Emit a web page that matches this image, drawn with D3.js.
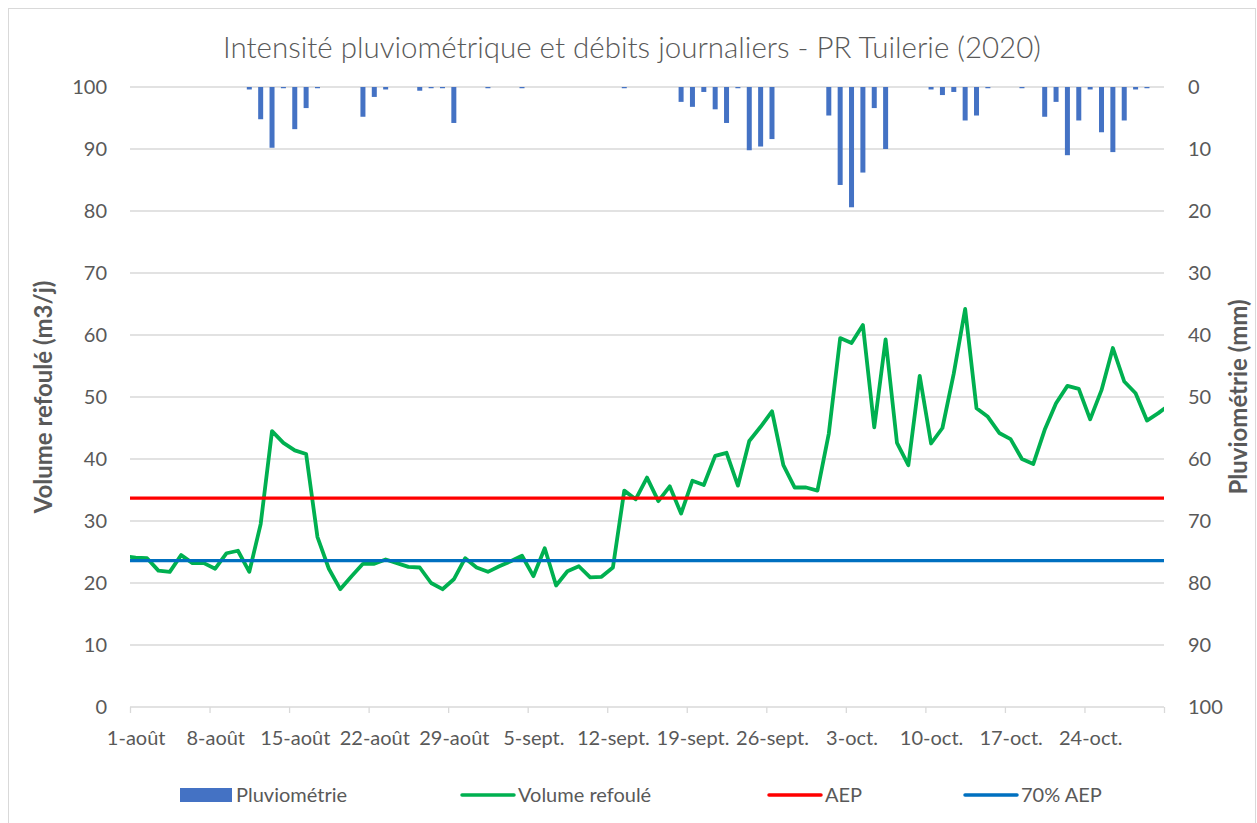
<!DOCTYPE html>
<html>
<head>
<meta charset="utf-8">
<script src="https://cdn.jsdelivr.net/npm/d3@7"></script>
<style>
  body { margin: 0; background: #fff; }
  svg text { font-family: Lato, "Open Sans", sans-serif; fill: #595959; }
</style>
</head>
<body>
<script>
// jours : du 31 juillet (index -1) au 31 octobre (index 91), axe affiché du 1-août au 30-oct.
const firstDay = -1;

// volume refoulé (m3/j), un point par jour
const volume = [
  24.3,
  24.1, 24.0, 22.0, 21.8, 24.5, 23.2, 23.2, 22.3, 24.8, 25.2,
  21.8, 29.5, 44.5, 42.6, 41.4, 40.8, 27.4, 22.3, 19.0, 21.1,
  23.1, 23.1, 23.8, 23.2, 22.6, 22.5, 20.0, 19.0, 20.6, 24.0,
  22.5, 21.8, 22.7, 23.5, 24.4, 21.1, 25.6, 19.6, 21.9, 22.7,
  20.9, 21.0, 22.5, 34.9, 33.5, 37.0, 33.2, 35.6, 31.2, 36.5,
  35.8, 40.5, 41.0, 35.7, 42.9, 45.2, 47.7, 39.0, 35.4, 35.4,
  34.9, 44.1, 59.5, 58.7, 61.6, 45.1, 59.3, 42.6, 39.0, 53.4,
  42.5, 45.0, 53.8, 64.2, 48.2, 46.8, 44.2, 43.2, 40.0, 39.2,
  44.7, 49.0, 51.8, 51.3, 46.4, 51.1, 57.9, 52.5, 50.6, 46.2,
  47.4, 48.8
];

// pluviométrie (mm), un bâton par jour
const pluie = [
  0,
  0, 0, 0, 0, 0, 0, 0, 0, 0, 0,
  0.4, 5.2, 9.8, 0.2, 6.8, 3.4, 0.2, 0, 0, 0,
  4.8, 1.6, 0.4, 0, 0, 0.6, 0.2, 0.2, 5.8, 0,
  0, 0.2, 0, 0, 0.2, 0, 0, 0, 0, 0,
  0, 0, 0, 0.2, 0, 0, 0, 0, 2.4, 3.2,
  0.8, 3.6, 5.8, 0.2, 10.2, 9.6, 8.4, 0, 0, 0,
  0, 4.6, 15.8, 19.4, 13.8, 3.4, 10.0, 0, 0, 0,
  0.4, 1.3, 0.8, 5.4, 4.6, 0.2, 0, 0, 0.2, 0,
  4.8, 2.4, 11.0, 5.4, 0.4, 7.3, 10.5, 5.4, 0.4, 0.2,
  0, 0
];

const aep      = 33.7;
const aep70    = 23.6;

const tickLabels = ['1-août', '8-août', '15-août', '22-août', '29-août', '5-sept.', '12-sept.',
                    '19-sept.', '26-sept.', '3-oct.', '10-oct.', '17-oct.', '24-oct.'];
const yTicks   = [0, 10, 20, 30, 40, 50, 60, 70, 80, 90, 100];

const legendItems = [
  {label: 'Pluviométrie',   type: 'bar',  color: '#4472C4'},
  {label: 'Volume refoulé', type: 'line', color: '#00B050'},
  {label: 'AEP',            type: 'line', color: '#FF0000'},
  {label: '70% AEP',        type: 'line', color: '#0070C0'}
];

const W = 1257, H = 823;
const plot = {left: 130, right: 1164, top: 87, bottom: 707};

const svg = d3.select('body').append('svg')
    .attr('width', W)
    .attr('height', H);

// cadre du graphique
svg.append('rect')
    .attr('x', 8.5).attr('y', 8.5)
    .attr('width', 1247).attr('height', 900)
    .attr('fill', '#fff')
    .attr('stroke', '#D9D9D9');

const x  = d3.scaleLinear().domain([-0.5, 90.5]).range([plot.left, plot.right]);
const yL = d3.scaleLinear().domain([0, 100]).range([plot.bottom, plot.top]);
const yR = d3.scaleLinear().domain([0, 100]).range([plot.top, plot.bottom]);

const days = volume.map((v, i) => i + firstDay);

// grille horizontale
svg.append('g').selectAll('line')
    .data(yTicks)
    .enter().append('line')
    .attr('x1', plot.left).attr('x2', plot.right)
    .attr('y1', d => yL(d)).attr('y2', d => yL(d))
    .attr('stroke', '#D9D9D9')
    .attr('stroke-width', 1.3);

// graduations de l'axe X (entre les semaines)
const xTickAxis = d3.axisBottom(x)
    .tickValues(d3.range(14).map(k => 7 * k - 0.5))
    .tickFormat('')
    .tickSize(6)
    .tickSizeOuter(0);
const gx = svg.append('g')
    .attr('transform', 'translate(0,' + plot.bottom + ')')
    .call(xTickAxis);
gx.select('.domain').remove();
gx.selectAll('line').attr('stroke', '#D9D9D9').attr('stroke-width', 1.3);

const xLabelAxis = d3.axisBottom(x)
    .tickValues(d3.range(tickLabels.length).map(k => 7 * k))
    .tickFormat((d, i) => tickLabels[i])
    .tickSize(0)
    .tickPadding(24);
const gxl = svg.append('g')
    .attr('transform', 'translate(0,' + plot.bottom + ')')
    .call(xLabelAxis);
gxl.select('.domain').remove();
gxl.selectAll('text').style('font-size', '20px').attr('dy', 0).attr('y', 38);

// axes Y
const gyl = svg.append('g')
    .attr('transform', 'translate(' + plot.left + ',0)')
    .call(d3.axisLeft(yL).tickValues(yTicks).tickSize(0).tickPadding(23));
gyl.select('.domain').remove();
gyl.selectAll('text').style('font-size', '20px');

const gyr = svg.append('g')
    .attr('transform', 'translate(' + plot.right + ',0)')
    .call(d3.axisRight(yR).tickValues(yTicks).tickSize(0).tickPadding(24));
gyr.select('.domain').remove();
gyr.selectAll('text').style('font-size', '20px');

// zone de tracé découpée
svg.append('clipPath').attr('id', 'clip')
  .append('rect')
    .attr('x', plot.left).attr('y', plot.top - 2)
    .attr('width', plot.right - plot.left)
    .attr('height', plot.bottom - plot.top + 4);

const area = svg.append('g').attr('clip-path', 'url(#clip)');

// bâtons de pluviométrie (axe secondaire inversé)
const barW = 5;
area.append('g').selectAll('rect')
    .data(pluie.map((p, i) => ({day: days[i], value: p})).filter(d => d.value > 0))
    .enter().append('rect')
    .attr('x', d => x(d.day) - barW / 2)
    .attr('y', yR(0))
    .attr('width', barW)
    .attr('height', d => yR(d.value) - yR(0))
    .attr('fill', legendItems[0].color);

const line = d3.line()
    .x(d => x(d.day))
    .y(d => yL(d.value));

area.append('path')
    .datum(volume.map((v, i) => ({day: days[i], value: v})))
    .attr('d', line)
    .attr('fill', 'none')
    .attr('stroke', legendItems[1].color)
    .attr('stroke-width', 3.8)
    .attr('stroke-linejoin', 'round');

[[aep, legendItems[2].color], [aep70, legendItems[3].color]].forEach(([v, c]) => {
  area.append('path')
      .datum([{day: -0.5, value: v}, {day: 90.5, value: v}])
      .attr('d', line)
      .attr('fill', 'none')
      .attr('stroke', c)
      .attr('stroke-width', 3.2);
});

// titre
svg.append('text')
    .attr('x', 632).attr('y', 58)
    .attr('text-anchor', 'middle')
    .style('font-size', '29.5px')
    .style('font-weight', 300)
    .text('Intensité pluviométrique et débits journaliers - PR Tuilerie (2020)');

// titres des axes
svg.append('text')
    .attr('transform', 'translate(52,' + ((plot.top + plot.bottom) / 2) + ') rotate(-90)')
    .attr('text-anchor', 'middle')
    .style('font-size', '24px')
    .style('font-weight', 'bold')
    .text('Volume refoulé (m3/j)');

svg.append('text')
    .attr('transform', 'translate(1247,' + ((plot.top + plot.bottom) / 2) + ') rotate(-90)')
    .attr('text-anchor', 'middle')
    .style('font-size', '24px')
    .style('font-weight', 'bold')
    .text('Pluviométrie (mm)');

// légende
const legendX = [180, 462, 769, 965];
const lg = svg.append('g').selectAll('g')
    .data(legendItems)
    .enter().append('g')
    .attr('transform', (d, i) => 'translate(' + legendX[i] + ',795)');

lg.each(function(d) {
  const g = d3.select(this);
  if (d.type === 'bar') {
    g.append('rect').attr('x', 0).attr('y', -7).attr('width', 52).attr('height', 14).attr('fill', d.color);
  } else {
    g.append('line').attr('x1', 0).attr('x2', 52).attr('y1', 0).attr('y2', 0)
        .attr('stroke', d.color).attr('stroke-width', 3.5).attr('stroke-linecap', 'round');
  }
  g.append('text').attr('x', 56).attr('y', 7).style('font-size', '20px').text(d.label);
});
</script>
</body>
</html>
